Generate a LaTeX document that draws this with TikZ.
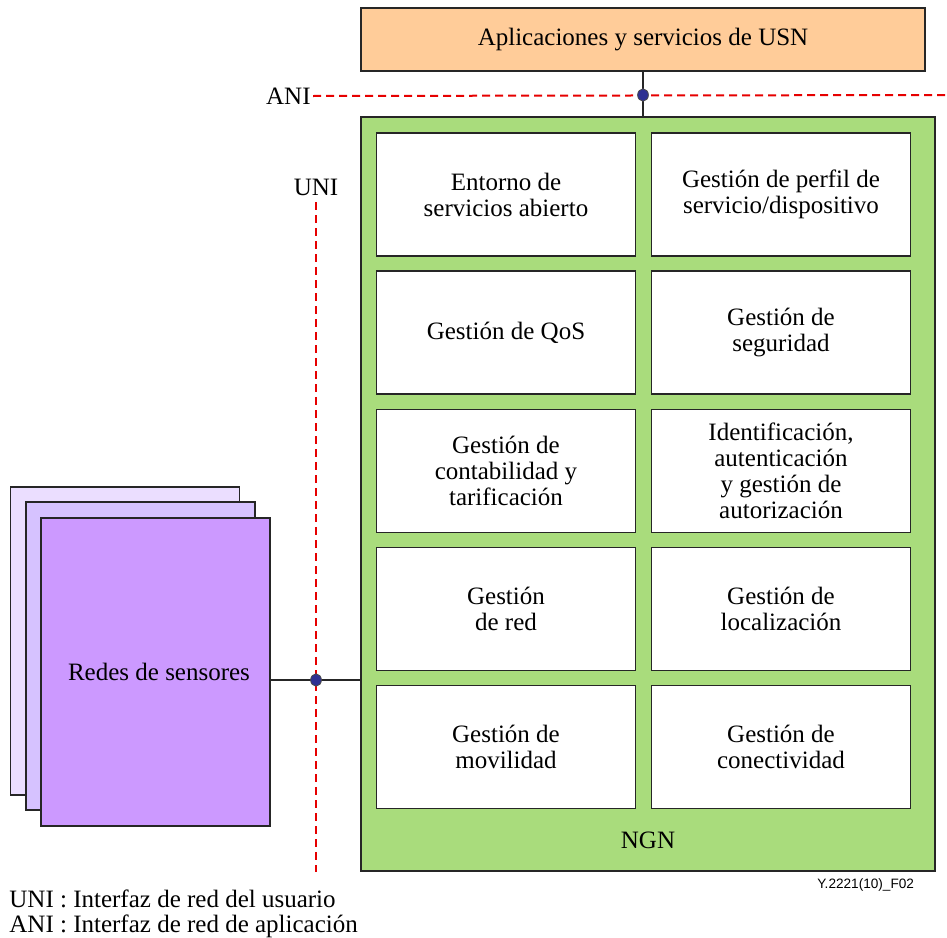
\documentclass[tikz,border=0pt]{standalone}
\usepackage{fontspec}
\setmainfont{Liberation Serif}
\setsansfont{Liberation Sans}
\usetikzlibrary{calc,shapes.geometric}
\definecolor{AppClr}{RGB}{255,204,153}
\definecolor{NgnClr}{RGB}{169,220,124}
\definecolor{SensA}{RGB}{235,222,255}
\definecolor{SensB}{RGB}{214,194,255}
\definecolor{SensC}{RGB}{204,153,255}
\definecolor{DotClr}{RGB}{46,49,146}
\definecolor{IfaceClr}{RGB}{230,0,0}

\begin{document}
\begin{tikzpicture}[x=0.5pt,y=-0.5pt,
  every node/.style={font=\rmfamily\fontsize{12.5}{13}\selectfont},
  box/.style={draw=black!85,line width=0.8pt,inner sep=0pt},
  cell/.style={box,fill=white,minimum width=129.5pt,minimum height=61.5pt,align=center},
  sensor/.style={box,minimum width=114.5pt,minimum height=154pt},
  iface/.style={draw=IfaceClr,line width=1pt,dash pattern=on 4pt off 2.5pt},
  link/.style={draw=black!85,line width=0.7pt},
  refpt/.style={ellipse,draw=black!70,fill=DotClr,line width=0.4pt,inner sep=0pt,minimum width=5.4pt,minimum height=6.2pt}]
\useasboundingbox (0,0) rectangle (947,937);

\node[box,fill=AppClr,minimum width=282pt,minimum height=31.5pt] (usn) at (643,39.5) {Aplicaciones y servicios de USN};
\node[box,fill=NgnClr,minimum width=287pt,minimum height=377pt] (ngn) at (648,494) {};

\node[cell] (ose) at (506,194.5) {Entorno de\\servicios abierto};
\node[cell] (prof) at (781,194.5) {Gestión de perfil de\\servicio/dispositivo};
\node[cell] (qos) at (506,332.5) {Gestión de QoS};
\node[cell] (sec) at (781,332.5) {Gestión de\\seguridad};
\node[cell] (chg) at (506,471) {Gestión de\\contabilidad y\\tarificación};
\node[cell] (iam) at (781,471) {Identificación,\\autenticación\\y gestión de\\autorización};
\node[cell] (net) at (506,609) {Gestión\\de red};
\node[cell] (loc) at (781,609) {Gestión de\\localización};
\node[cell] (mob) at (506,747) {Gestión de\\movilidad};
\node[cell] (con) at (781,747) {Gestión de\\conectividad};
\node (ngnlbl) at (648,840) {NGN};

\node[sensor,fill=SensA] (sens3) at (125,641) {};
\node[sensor,fill=SensB] (sens2) at (140.5,656) {};
\node[sensor,fill=SensC] (sens) at (155.5,672) {};
\node (senslbl) at (159,672) {Redes de sensores};

\node[anchor=east,inner sep=1pt] (ani) at (313,96) {ANI};
\node (uni) at (316,187) {UNI};
\coordinate (aniend) at (947,95);
\coordinate (uniend) at (316,872);
\coordinate (unipt) at (316,680);

\draw[link] (usn.south) -- (usn.south |- ngn.north);
\draw[link] (sens.east |- unipt) -- (unipt -| ngn.west);
\draw[iface] (ani.east) -- (aniend);
\draw[iface] (uni.south) -- (uniend);
\node[refpt] (anipt) at (usn.south |- aniend) {};
\node[refpt] (unidot) at (unipt) {};

\node[anchor=east,font=\sffamily\fontsize{6.8}{8}\selectfont] (figid) at (921,885) {Y.2221(10)\_F02};
\node[anchor=west,inner sep=0pt] (leg1) at (9,899) {UNI : Interfaz de red del usuario};
\node[anchor=west,inner sep=0pt] (leg2) at (9,926) {ANI : Interfaz de red de aplicación};
\end{tikzpicture}
\end{document}
